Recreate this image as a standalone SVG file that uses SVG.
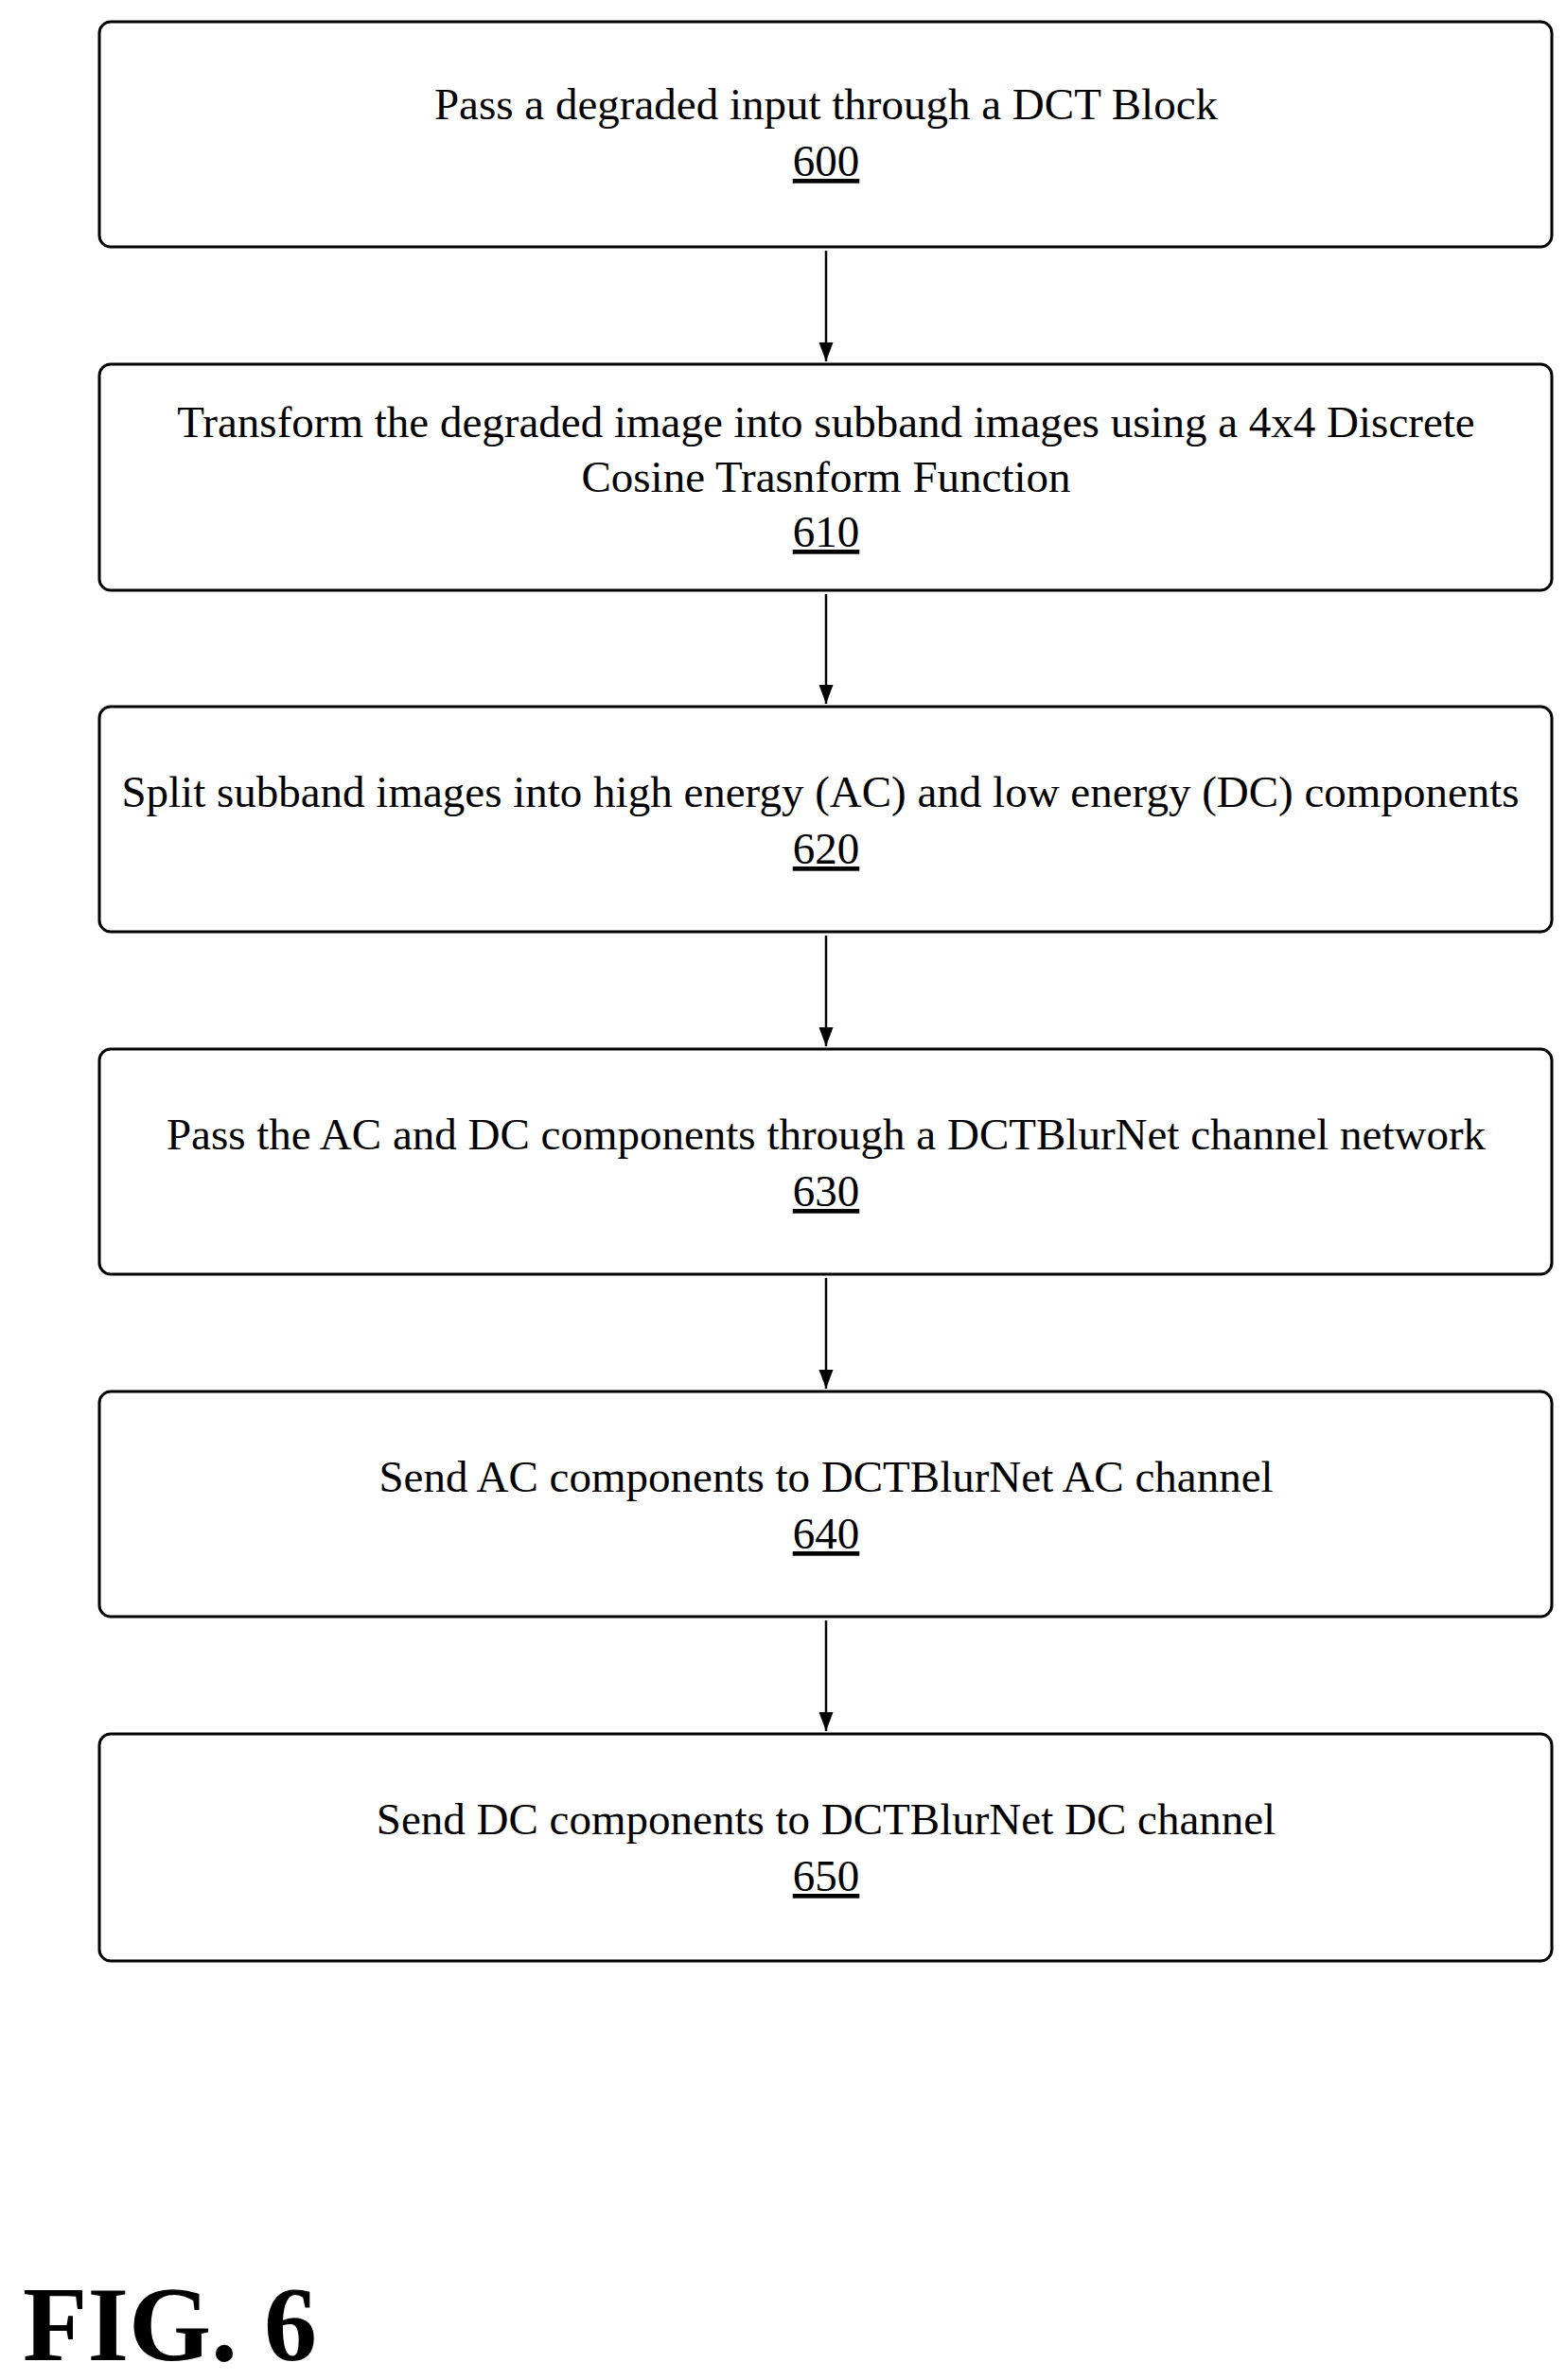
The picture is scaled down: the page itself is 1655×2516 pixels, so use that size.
<svg xmlns="http://www.w3.org/2000/svg" width="1655" height="2516" viewBox="0 0 1655 2516">
<style>
.b{fill:#fff;stroke:#000;stroke-width:3}
.t{font-family:"Liberation Serif",serif;font-size:47px;text-anchor:middle;fill:#000}
.n{text-decoration:underline}
.c{stroke:#000;stroke-width:2.5;fill:none}
</style>
<defs><marker id="a" markerWidth="20" markerHeight="20" refX="16" refY="8" orient="auto" markerUnits="userSpaceOnUse" viewBox="0 0 16 16"><path d="M0,2 L16,8 L0,14 z" fill="#000"/></marker></defs>
<rect width="1655" height="2516" fill="#fff"/>
<g id="n600"><rect class="b" x="105" y="23" width="1535" height="238" rx="12"/><text class="t" x="873" y="126">Pass a degraded input through a DCT Block</text><text class="t n" x="873" y="186">600</text></g>
<g id="n610"><rect class="b" x="105" y="385" width="1535" height="239" rx="12"/><text class="t" x="873" y="462">Transform the degraded image into subband images using a 4x4 Discrete</text><text class="t" x="873" y="520">Cosine Trasnform Function</text><text class="t n" x="873" y="578">610</text></g>
<g id="n620"><rect class="b" x="105" y="747" width="1535" height="238" rx="12"/><text class="t" x="867" y="853">Split subband images into high energy (AC) and low energy (DC) components</text><text class="t n" x="873" y="913">620</text></g>
<g id="n630"><rect class="b" x="105" y="1109" width="1535" height="238" rx="12"/><text class="t" x="873" y="1215">Pass the AC and DC components through a DCTBlurNet channel network</text><text class="t n" x="873" y="1275">630</text></g>
<g id="n640"><rect class="b" x="105" y="1471" width="1535" height="238" rx="12"/><text class="t" x="873" y="1577">Send AC components to DCTBlurNet AC channel</text><text class="t n" x="873" y="1637">640</text></g>
<g id="n650"><rect class="b" x="105" y="1833" width="1535" height="240" rx="12"/><text class="t" x="873" y="1939">Send DC components to DCTBlurNet DC channel</text><text class="t n" x="873" y="1999">650</text></g>
<g id="connectors">
<line class="c" x1="873" y1="265" x2="873" y2="382" marker-end="url(#a)"/>
<line class="c" x1="873" y1="628" x2="873" y2="744" marker-end="url(#a)"/>
<line class="c" x1="873" y1="989" x2="873" y2="1106" marker-end="url(#a)"/>
<line class="c" x1="873" y1="1351" x2="873" y2="1468" marker-end="url(#a)"/>
<line class="c" x1="873" y1="1713" x2="873" y2="1830" marker-end="url(#a)"/>
</g>
<text x="24" y="2495" style="font-family:'Liberation Serif',serif;font-size:112px;font-weight:bold">FIG. 6</text>
</svg>
